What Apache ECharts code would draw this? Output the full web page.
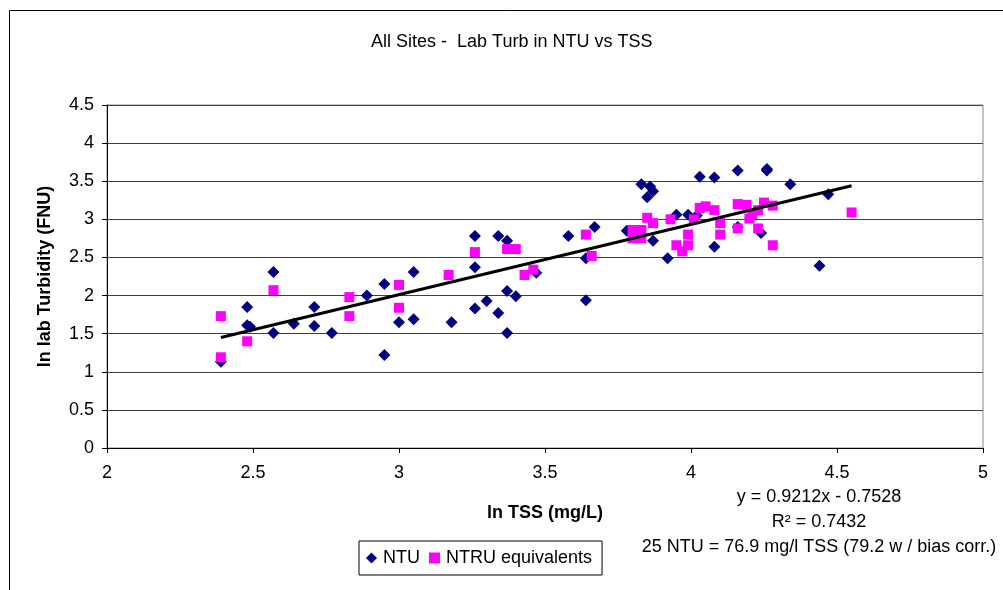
<!DOCTYPE html>
<html>
<head>
<meta charset="utf-8">
<script src="https://cdn.jsdelivr.net/npm/echarts@6/dist/echarts.min.js"></script>
<style>
  html, body { margin: 0; padding: 0; background: #fff; }
  #chart { width: 1003px; height: 590px; }
</style>
</head>
<body>
<div id="chart"></div>
<script>
// ln TSS, ln turbidity pairs
const ntuPoints = [
  [2.39, 1.13], [2.48, 1.85], [2.48, 1.61], [2.49, 1.59], [2.57, 2.31], [2.57, 1.51],
  [2.64, 1.63], [2.71, 1.85], [2.71, 1.60], [2.77, 1.51], [2.89, 2.00], [2.95, 2.15],
  [2.95, 1.22], [3.00, 1.65], [3.05, 2.31], [3.05, 1.69], [3.18, 1.65], [3.26, 2.78],
  [3.26, 2.37], [3.26, 1.83], [3.30, 1.93], [3.34, 2.78], [3.34, 1.77], [3.37, 2.72],
  [3.37, 2.06], [3.40, 1.99], [3.37, 1.51], [3.47, 2.30], [3.58, 2.78], [3.67, 2.90],
  [3.64, 2.49], [3.64, 1.94], [3.78, 2.85], [3.83, 3.46], [3.86, 3.43], [3.87, 3.37],
  [3.85, 3.29], [3.87, 2.72], [3.92, 2.49], [3.95, 3.06], [3.99, 3.06], [4.02, 3.05],
  [4.03, 3.56], [4.08, 3.55], [4.08, 2.64], [4.16, 3.64], [4.16, 2.90], [4.26, 3.66],
  [4.26, 3.64], [4.24, 2.82], [4.34, 3.46], [4.47, 3.33], [4.44, 2.39]
];

const ntruPoints = [
  [2.39, 1.19], [2.39, 1.73], [2.48, 1.40], [2.57, 2.07], [2.83, 1.98], [2.83, 1.73],
  [3.00, 2.14], [3.00, 1.84], [3.17, 2.27], [3.26, 2.57], [3.37, 2.61], [3.40, 2.61],
  [3.43, 2.27], [3.46, 2.34], [3.64, 2.80], [3.66, 2.52], [3.80, 2.86], [3.80, 2.75],
  [3.83, 2.86], [3.83, 2.75], [3.85, 3.02], [3.87, 2.95], [3.93, 3.00], [3.95, 2.66],
  [3.97, 2.58], [3.99, 2.66], [3.99, 2.80], [4.01, 3.00], [4.03, 3.15], [4.05, 3.17],
  [4.08, 3.12], [4.10, 2.95], [4.10, 2.80], [4.16, 3.20], [4.19, 3.19], [4.16, 2.88],
  [4.20, 3.01], [4.21, 3.07], [4.23, 2.88], [4.23, 3.12], [4.25, 3.22], [4.28, 3.18],
  [4.28, 2.66], [4.55, 3.09]
];

// trend line end points
const trendPoints = [[2.39, 1.45], [4.55, 3.44]];

const trendText = [
  "y = 0.9212x - 0.7528",
  "R\u00b2 = 0.7432",
  "25 NTU = 76.9 mg/l TSS (79.2 w / bias corr.)"
];

const font = "Liberation Sans, Arial, sans-serif";
const chart = echarts.init(document.getElementById("chart"));

const option = {
  animation: false,
  textStyle: { fontFamily: font, color: "#000" },
  title: {
    text: "All Sites -  Lab Turb in NTU vs TSS",
    left: 366,
    top: 28,
    textStyle: { fontFamily: font, fontSize: 18, fontWeight: "normal", color: "#000" }
  },
  grid: { left: 107, right: 20, top: 105, bottom: 142, show: true, borderColor: "#888", borderWidth: 1 },
  legend: {
    left: 359,
    top: 541,
    padding: [8, 10, 8, 7],
    borderColor: "#000",
    borderWidth: 1,
    itemGap: 9,
    itemWidth: 11,
    itemHeight: 11,
    textStyle: { fontFamily: font, fontSize: 18, color: "#000", padding: [0, 0, 0, 1] },
    data: [
      { name: "NTU", icon: "diamond" },
      { name: "NTRU equivalents", icon: "rect" }
    ]
  },
  xAxis: {
    type: "value",
    min: 2,
    max: 5,
    interval: 0.5,
    name: "ln TSS (mg/L)",
    nameLocation: "middle",
    nameGap: 56,
    nameTextStyle: { fontFamily: font, fontSize: 18, fontWeight: "bold", color: "#000" },
    axisLine: { show: true, onZero: false, lineStyle: { color: "#000", width: 1 } },
    axisTick: { show: true, inside: false, length: 5, lineStyle: { color: "#000" } },
    axisLabel: { fontFamily: font, fontSize: 18, color: "#000", margin: 16 },
    splitLine: { show: false }
  },
  yAxis: {
    type: "value",
    min: 0,
    max: 4.5,
    interval: 0.5,
    name: "ln lab Turbidity (FNU)",
    nameLocation: "middle",
    nameGap: 53,
    nameTextStyle: { fontFamily: font, fontSize: 18, fontWeight: "bold", color: "#000" },
    axisLine: { show: true, onZero: false, lineStyle: { color: "#000", width: 1 } },
    axisTick: { show: true, inside: false, length: 5, lineStyle: { color: "#000" } },
    axisLabel: { fontFamily: font, fontSize: 18, color: "#000", margin: 13 },
    splitLine: { show: true, lineStyle: { color: "#404040", width: 1 } }
  },
  graphic: [
    {
      type: "rect",
      silent: true,
      shape: { x: 9.5, y: 10.5, width: 1100, height: 700 },
      style: { fill: "none", stroke: "#000", lineWidth: 1 },
      z: -10
    },
    ...trendText.map((t, i) => ({
      type: "text",
      x: 819,
      y: 497 + i * 25,
      style: {
        text: t,
        fontFamily: font,
        fontSize: 18,
        fill: "#000",
        align: "center",
        verticalAlign: "middle"
      }
    }))
  ],
  series: [
    {
      name: "NTU",
      type: "scatter",
      symbol: "diamond",
      symbolSize: 12,
      itemStyle: { color: "#000080", opacity: 1 },
      data: ntuPoints,
      z: 2
    },
    {
      name: "NTRU equivalents",
      type: "scatter",
      symbol: "rect",
      symbolSize: 10,
      itemStyle: { color: "#FF00FF", opacity: 1 },
      data: ntruPoints,
      z: 3
    },
    {
      name: "trend",
      type: "line",
      data: trendPoints,
      symbol: "none",
      lineStyle: { color: "#000", width: 3 },
      z: 4
    }
  ]
};

chart.setOption(option);
</script>
</body>
</html>
